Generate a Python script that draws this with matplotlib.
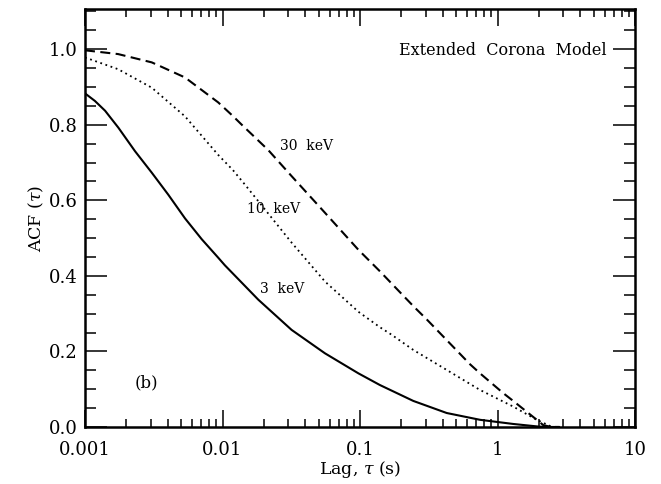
import matplotlib
matplotlib.use('Agg')
import matplotlib.pyplot as plt
from matplotlib.ticker import FixedLocator, MultipleLocator, LogLocator, NullFormatter

# points: lag (s) and ACF for each energy
lag_3kev = [0.001, 0.00118, 0.0014, 0.00175, 0.00231, 0.00306, 0.00403, 0.00534,
            0.00706, 0.00931, 0.0104, 0.0182, 0.0318, 0.0556, 0.0973, 0.1396,
            0.175, 0.244, 0.427, 0.746, 1.30, 2.0, 2.5, 2.8]
acf_3kev = [0.883, 0.863, 0.837, 0.792, 0.730, 0.673, 0.615, 0.552,
            0.497, 0.448, 0.428, 0.337, 0.257, 0.195, 0.142, 0.111,
            0.094, 0.069, 0.037, 0.019, 0.008, 0.001, 0.0, 0.0]

lag_10kev = [0.001, 0.00174, 0.00306, 0.00534, 0.00931, 0.0119, 0.0146, 0.0215,
             0.0318, 0.0556, 0.0973, 0.1396, 0.170, 0.244, 0.427, 0.746,
             1.30, 1.93, 2.5, 2.8]
acf_10kev = [0.978, 0.947, 0.898, 0.822, 0.720, 0.680, 0.641, 0.565,
             0.488, 0.385, 0.305, 0.264, 0.244, 0.204, 0.151, 0.098,
             0.054, 0.019, 0.0, 0.0]

lag_30kev = [0.001, 0.00174, 0.00306, 0.00534, 0.00931, 0.0119, 0.0138, 0.0215,
             0.0318, 0.0556, 0.0973, 0.1396, 0.189, 0.244, 0.307, 0.427,
             0.631, 0.746, 1.097, 1.30, 1.93, 2.15, 2.45, 2.8]
acf_30kev = [0.997, 0.987, 0.965, 0.925, 0.859, 0.823, 0.800, 0.733,
             0.664, 0.567, 0.469, 0.412, 0.362, 0.320, 0.284, 0.230,
             0.166, 0.142, 0.090, 0.069, 0.019, 0.005, 0.0, 0.0]

xticks = [0.001, 0.01, 0.1, 1, 10]
xticklabels = ['0.001', '0.01', '0.1', '1', '10']
yticks = [0.0, 0.2, 0.4, 0.6, 0.8, 1.0]
yticklabels = ['0.0', '0.2', '0.4', '0.6', '0.8', '1.0']

plt.rcParams['font.family'] = 'DejaVu Serif'
plt.rcParams['mathtext.fontset'] = 'dejavuserif'

fig = plt.figure(figsize=(6.61, 4.84), dpi=100)
ax = fig.add_axes([0.1286, 0.1178, 0.8321, 0.8626])

ax.plot(lag_3kev, acf_3kev, color='black', lw=1.5, ls='-')
ax.plot(lag_10kev, acf_10kev, color='black', lw=1.3, ls=(0, (1, 2)))
ax.plot(lag_30kev, acf_30kev, color='black', lw=1.5, ls=(0, (4.8, 2.6)))

ax.set_xscale('log')
ax.set_xlim(0.001, 10)
ax.set_ylim(0.0, 1.105)

ax.xaxis.set_major_locator(FixedLocator(xticks))
ax.set_xticklabels(xticklabels)
ax.xaxis.set_minor_locator(LogLocator(base=10, subs=range(2, 10), numticks=20))
ax.xaxis.set_minor_formatter(NullFormatter())
ax.yaxis.set_major_locator(FixedLocator(yticks))
ax.set_yticklabels(yticklabels)
ax.yaxis.set_minor_locator(MultipleLocator(0.05))

ax.tick_params(which='both', direction='in', top=True, right=True, width=1.1, colors='black')
ax.tick_params(axis='x', which='major', length=12, pad=10, labelsize=13)
ax.tick_params(axis='x', which='minor', length=6)
ax.tick_params(axis='y', which='major', length=15.5, pad=5, labelsize=13)
ax.tick_params(axis='y', which='minor', length=8)
for s in ax.spines.values():
    s.set_linewidth(1.8)

ax.set_xlabel(r'Lag, $\tau$ (s)', fontsize=12.5, labelpad=0)
ax.set_ylabel(r'ACF ($\tau$)', fontsize=12.5, labelpad=2)

# curve labels and annotations
ax.text(0.949, 0.902, 'Extended  Corona  Model', transform=ax.transAxes,
        ha='right', va='center', fontsize=11.5)
ax.text(0.0262, 0.743, '30  keV', ha='left', va='center', fontsize=10)
ax.text(0.01507, 0.578, '10  keV', ha='left', va='center', fontsize=10)
ax.text(0.01875, 0.366, '3  keV', ha='left', va='center', fontsize=10)
ax.text(0.00231, 0.117, '(b)', ha='left', va='center', fontsize=12)

fig.savefig('out.png', dpi=100)
